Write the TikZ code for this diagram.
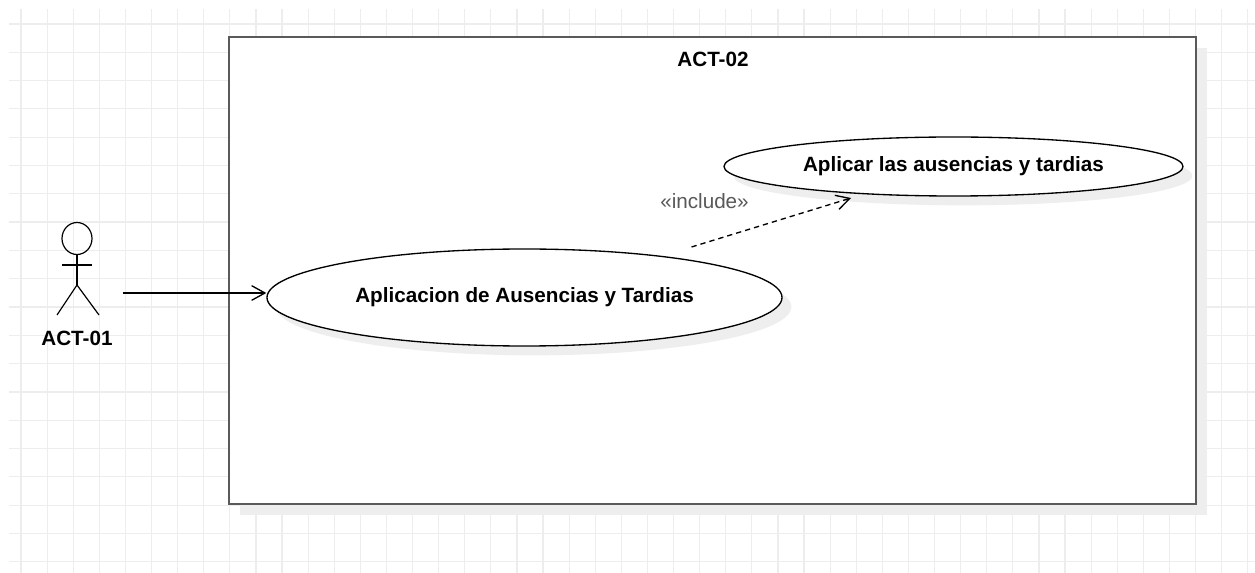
\documentclass[tikz,border=0pt]{standalone}
\usepackage{fontspec}
\setmainfont{Liberation Sans}
\usetikzlibrary{shapes.geometric,arrows.meta,shadows}
\definecolor{gridc}{HTML}{EDEDED}
\definecolor{shadc}{HTML}{EEEEEE}
\definecolor{framec}{HTML}{5A5A5A}
\definecolor{stereoc}{HTML}{595959}
\tikzset{
  lbl/.style={font=\fontsize{15.5}{18}\selectfont\bfseries, inner sep=0pt},
  usecase/.style={ellipse, draw=black, line width=1pt, fill=white, inner sep=0pt,
     font=\fontsize{15.5}{18}\selectfont\bfseries,
     drop shadow={shadow xshift=7pt, shadow yshift=-7pt, fill=shadc, opacity=1}},
  sysbox/.style={draw=framec, line width=1.5pt, fill=white},
  stick/.style={draw=black, line width=0.9pt},
  assoc/.style={draw=black, line width=1pt, -{Straight Barb[length=10pt,width=11pt,line width=1pt]}},
  incl/.style={draw=black, line width=1pt, dash pattern=on 4pt off 3pt,
     -{Straight Barb[length=10pt,width=11pt,line width=1pt]}},
}
\begin{document}
\begin{tikzpicture}[x=0.75pt,y=-0.75pt]
\useasboundingbox (0,0) rectangle (1255,573);
\fill[white] (0,0) rectangle (1255,573);
% grid
\foreach \k in {0,...,47} {\draw[gridc, line width=0.9pt] (21+26.1*\k,9) -- (21+26.1*\k,573);}
\foreach \k in {0,...,19} {\draw[gridc, line width=0.9pt] (9,24+28.3*\k) -- (1255,24+28.3*\k);}
% system boundary
\fill[shadc] (240,48) rectangle (1207,515);
\draw[sysbox] (229,37) rectangle (1195.5,503.5);
\node[lbl] (sys) at (713,59) {ACT-02};
% use cases
\node[usecase, minimum width=515*0.75pt, minimum height=97*0.75pt] (uc1) at (524.5,297.5)
  {Aplicacion de Ausencias y Tardias};
\node[usecase, minimum width=459*0.75pt, minimum height=59*0.75pt] (uc2) at (953.5,166.5)
  {Aplicar las ausencias y tardias};
% actor
\node[minimum width=45*0.75pt, minimum height=95*0.75pt, inner sep=0pt] (actor) at (77,268) {};
\draw[stick] (77,238.5) ellipse [x radius=15, y radius=16];
\draw[stick] (77,254.5) -- (77,285);
\draw[stick] (62,265) -- (92,265);
\draw[stick] (57,315) -- (77,285) -- (99,315);
\node[lbl] (actlbl) at (77,338) {ACT-01};
% association
\coordinate (a0) at (123,293);
\draw[assoc] (a0) -- (uc1.west |- a0);
% include
\coordinate (i0) at (691.5,247);
\coordinate (i1) at (851,198);
\draw[incl] (i0) -- (i1);
\node[font=\fontsize{15.5}{18}\selectfont, text=stereoc, inner sep=0pt] (inclbl) at (704.5,201) {«include»};
\end{tikzpicture}
\end{document}
